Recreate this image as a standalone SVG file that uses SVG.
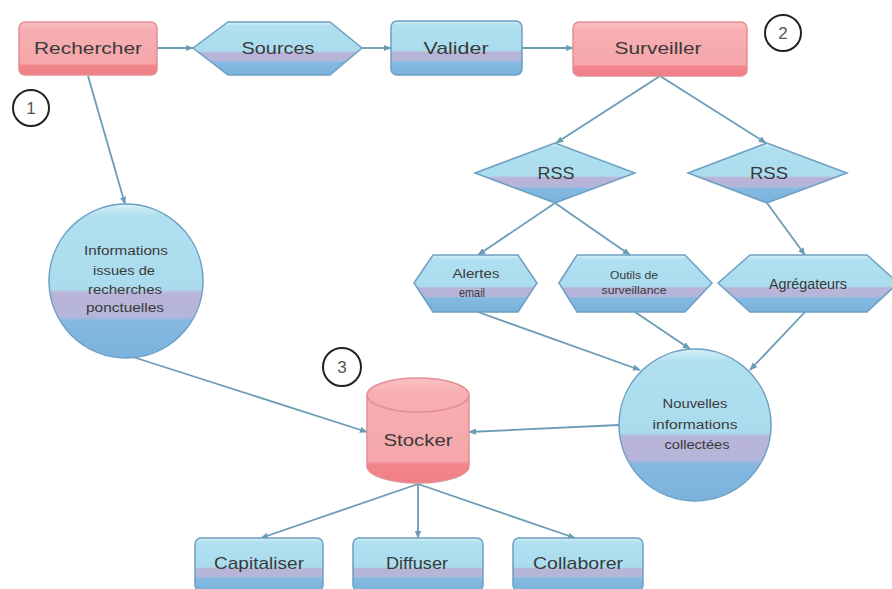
<svg xmlns="http://www.w3.org/2000/svg" width="892" height="589" viewBox="0 0 892 589">
  <defs>
    <linearGradient id="gBlue" x1="0" y1="0" x2="0" y2="1">
      <stop offset="0" stop-color="#d8eff6"/>
      <stop offset="0.08" stop-color="#b0e0f0"/>
      <stop offset="0.55" stop-color="#aadcee"/>
      <stop offset="0.58" stop-color="#bab3d8"/>
      <stop offset="0.73" stop-color="#b4b6da"/>
      <stop offset="0.76" stop-color="#84b9e1"/>
      <stop offset="1" stop-color="#7ab2dc"/>
    </linearGradient>
    <linearGradient id="gPink" x1="0" y1="0" x2="0" y2="1">
      <stop offset="0" stop-color="#f9c2c4"/>
      <stop offset="0.15" stop-color="#f7aeb2"/>
      <stop offset="0.79" stop-color="#f5a7ab"/>
      <stop offset="0.82" stop-color="#f2868c"/>
      <stop offset="1" stop-color="#ef7d85"/>
    </linearGradient>
    <marker id="arr" viewBox="0 0 10 10" refX="9" refY="5" markerWidth="8" markerHeight="8" markerUnits="userSpaceOnUse" orient="auto">
      <path d="M0,1 L10,5 L0,9 Z" fill="#6a9cb6"/>
    </marker>
    <style>
      .blue { fill: url(#gBlue); stroke: #6d9fc2; stroke-width: 1.5; }
      .pink { fill: url(#gPink); stroke: #e48e95; stroke-width: 1.5; }
      .lbl { font-family: "Liberation Sans", Arial, sans-serif; fill: #3a3a3a; text-anchor: middle; }
      .big { font-size: 17px; }
      .mid { font-size: 14px; }
      .sm { font-size: 12px; }
      .xs { font-size: 10px; }
      .num { fill: #ffffff; stroke: #222222; stroke-width: 2; }
      .numt { font-family: "Liberation Sans", Arial, sans-serif; font-size: 17px; fill: #555555; text-anchor: middle; }
      .conn line { stroke: #6a9cb6; stroke-width: 1.8; fill: none; marker-end: url(#arr); }
    </style>
  </defs>
  <rect width="892" height="589" fill="#ffffff"/>

  <g id="connectors" class="conn">
    <line x1="157" y1="48" x2="193" y2="48"/>
    <line x1="362" y1="48" x2="391" y2="48"/>
    <line x1="522" y1="48" x2="573" y2="48"/>
    <line x1="88" y1="76" x2="125" y2="204"/>
    <line x1="660" y1="76" x2="556" y2="143"/>
    <line x1="660" y1="76" x2="766" y2="143"/>
    <line x1="555" y1="203" x2="478" y2="255"/>
    <line x1="555" y1="203" x2="630" y2="255"/>
    <line x1="767" y1="203" x2="805" y2="255"/>
    <line x1="478" y1="312" x2="640" y2="370"/>
    <line x1="635" y1="312" x2="690" y2="349"/>
    <line x1="805" y1="312" x2="750" y2="370"/>
    <line x1="133" y1="357" x2="367" y2="432"/>
    <line x1="619" y1="425" x2="469" y2="432"/>
    <line x1="418" y1="484" x2="261" y2="538"/>
    <line x1="418" y1="484" x2="418" y2="538"/>
    <line x1="418" y1="484" x2="575" y2="538"/>
  </g>

  <g id="rechercher">
    <rect class="pink" x="19" y="22" width="138" height="53" rx="6"/>
    <text class="lbl big" x="88" y="54" textLength="108" lengthAdjust="spacingAndGlyphs">Rechercher</text>
  </g>
  <g id="sources">
    <polygon class="blue" points="193,48 228,22 330,22 362,48 330,75 228,75"/>
    <text class="lbl big" x="278" y="54" textLength="73" lengthAdjust="spacingAndGlyphs">Sources</text>
  </g>
  <g id="valider">
    <rect class="blue" x="391" y="21" width="131" height="54" rx="6"/>
    <text class="lbl big" x="456" y="54" textLength="65" lengthAdjust="spacingAndGlyphs">Valider</text>
  </g>
  <g id="surveiller">
    <rect class="pink" x="573" y="22" width="174" height="54" rx="6"/>
    <text class="lbl big" x="658" y="54" textLength="87" lengthAdjust="spacingAndGlyphs">Surveiller</text>
  </g>

  <g id="num1">
    <circle class="num" cx="31" cy="108" r="18"/>
    <text class="numt" x="31" y="114">1</text>
  </g>
  <g id="num2">
    <circle class="num" cx="783" cy="33" r="18"/>
    <text class="numt" x="783" y="39">2</text>
  </g>
  <g id="num3">
    <circle class="num" cx="342" cy="367" r="19"/>
    <text class="numt" x="342" y="373">3</text>
  </g>

  <g id="rss1">
    <polygon class="blue" points="475,173 555,143 635,173 555,203"/>
    <text class="lbl big" x="556" y="179" textLength="37" lengthAdjust="spacingAndGlyphs">RSS</text>
  </g>
  <g id="rss2">
    <polygon class="blue" points="688,173 767,143 847,173 767,203"/>
    <text class="lbl big" x="769" y="179" textLength="38" lengthAdjust="spacingAndGlyphs">RSS</text>
  </g>

  <g id="alertes">
    <polygon class="blue" points="414,283 433,255 518,255 537,283 518,312 433,312"/>
    <text class="lbl sm" x="476" y="278" textLength="47" lengthAdjust="spacingAndGlyphs">Alertes</text>
    <text class="lbl sm" x="472" y="297" textLength="26" lengthAdjust="spacingAndGlyphs">email</text>
  </g>
  <g id="outils">
    <polygon class="blue" points="559,283 577,255 685,255 712,283 685,312 577,312"/>
    <text class="lbl xs" x="634" y="279" textLength="48" lengthAdjust="spacingAndGlyphs">Outils de</text>
    <text class="lbl xs" x="634" y="294" textLength="65" lengthAdjust="spacingAndGlyphs">surveillance</text>
  </g>
  <g id="agregateurs">
    <polygon class="blue" points="718,283 750,255 867,255 898,283 867,312 750,312"/>
    <text class="lbl mid" x="808" y="289" textLength="78" lengthAdjust="spacingAndGlyphs">Agrégateurs</text>
  </g>

  <g id="informations">
    <circle class="blue" cx="126" cy="281" r="77"/>
    <text class="lbl sm" x="126" y="255" textLength="84" lengthAdjust="spacingAndGlyphs">Informations</text>
    <text class="lbl sm" x="124" y="275" textLength="62" lengthAdjust="spacingAndGlyphs">issues de</text>
    <text class="lbl sm" x="125" y="294" textLength="74" lengthAdjust="spacingAndGlyphs">recherches</text>
    <text class="lbl sm" x="125" y="312" textLength="78" lengthAdjust="spacingAndGlyphs">ponctuelles</text>
  </g>

  <g id="nouvelles">
    <circle class="blue" cx="695" cy="425" r="76"/>
    <text class="lbl sm" x="695" y="408" textLength="65" lengthAdjust="spacingAndGlyphs">Nouvelles</text>
    <text class="lbl sm" x="695" y="429" textLength="85" lengthAdjust="spacingAndGlyphs">informations</text>
    <text class="lbl sm" x="697" y="449" textLength="65" lengthAdjust="spacingAndGlyphs">collectées</text>
  </g>

  <g id="stocker">
    <path class="pink" d="M367,395 L367,466 A51,17 0 0 0 469,466 L469,395 A51,17 0 0 0 367,395 Z"/>
    <path d="M367,395 A51,17 0 0 0 469,395" fill="none" stroke="#e48e95" stroke-width="1.5"/>
    <text class="lbl big" x="418" y="446" textLength="69" lengthAdjust="spacingAndGlyphs">Stocker</text>
  </g>

  <g id="capitaliser">
    <rect class="blue" x="195" y="538" width="128" height="53" rx="6"/>
    <text class="lbl big" x="259" y="569" textLength="90" lengthAdjust="spacingAndGlyphs">Capitaliser</text>
  </g>
  <g id="diffuser">
    <rect class="blue" x="353" y="538" width="130" height="53" rx="6"/>
    <text class="lbl big" x="417" y="569" textLength="62" lengthAdjust="spacingAndGlyphs">Diffuser</text>
  </g>
  <g id="collaborer">
    <rect class="blue" x="513" y="538" width="130" height="53" rx="6"/>
    <text class="lbl big" x="578" y="569" textLength="90" lengthAdjust="spacingAndGlyphs">Collaborer</text>
  </g>
</svg>
